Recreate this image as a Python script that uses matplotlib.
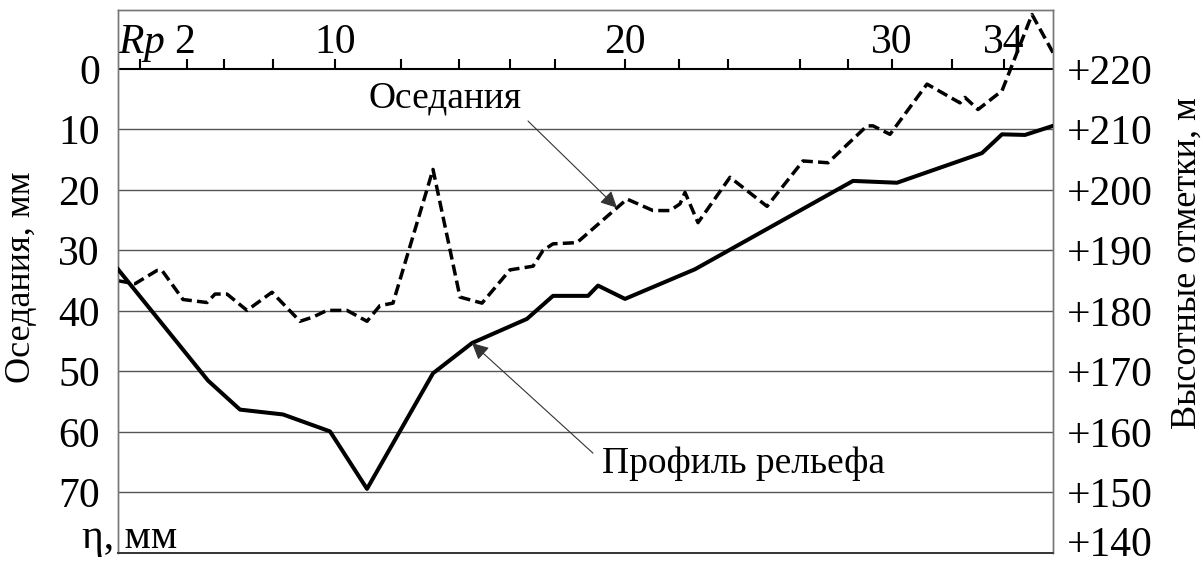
import matplotlib
matplotlib.use("Agg")
import matplotlib.pyplot as plt
import numpy as np

plt.rcParams['font.family'] = ['Liberation Serif', 'DejaVu Serif']
plt.rcParams['mathtext.fontset'] = 'custom'
plt.rcParams['mathtext.rm'] = 'Liberation Serif'
plt.rcParams['mathtext.it'] = 'Liberation Serif:italic'

# ------------------------------------------------------------------
# data (distance along profile)
# ------------------------------------------------------------------
subs_dist = [0, 17, 39, 44, 65, 89, 97, 109, 129, 154, 182, 195, 209, 229, 249,
             262, 275, 315, 342, 364, 392, 415, 425, 435, 459, 509, 535, 552,
             562, 567, 580, 612, 649, 685, 710, 749, 755, 772, 809, 842, 847,
             860, 884, 914, 935]
subs_mm = [35.0, 35.5, 33.3, 33.3, 38.1, 38.6, 37.2, 37.2, 39.9, 36.9, 41.7,
           41.0, 39.9, 39.9, 41.7, 39.1, 38.7, 16.6, 37.7, 38.7, 33.2, 32.6,
           30.0, 28.9, 28.7, 21.5, 23.4, 23.4, 22.3, 20.4, 25.4, 17.9, 22.7,
           15.2, 15.5, 9.4, 9.4, 10.8, 2.5, 5.6, 4.7, 6.7, 3.6, -9.0, -2.7]

prof_dist = [0, 90, 122, 165, 212, 249, 315, 354, 409, 435, 470, 480, 507,
             577, 735, 779, 864, 884, 907, 935]
prof_h = [186.9, 168.5, 163.7, 162.9, 160.1, 150.6, 169.7, 174.7, 178.7,
          182.5, 182.5, 184.2, 182.0, 186.9, 201.5, 201.2, 206.1, 209.2,
          209.1, 210.6]

# benchmark ticks on top line
bench_dist = [22, 69, 106, 155, 217, 283, 341, 392, 437, 507, 561, 610,
              682, 730, 774, 834, 886]
bench_lab_dist = [0, 217, 507, 774, 886]
bench_labels = [r'$\mathit{Rp}$ 2', '10', '20', '30', '34']

eta_ticks = [0, 10, 20, 30, 40, 50, 60, 70]
h_ticks = [140, 150, 160, 170, 180, 190, 200, 210, 220]

# ------------------------------------------------------------------
fig = plt.figure(figsize=(12.03, 5.67), dpi=100)
ax = fig.add_axes([118 / 1203, 14 / 567, 935 / 1203, 543 / 567])
ax2 = ax.twinx()

ax.set_xlim(0, 935)
ax.set_ylim(80, -9.75)
ax2.set_ylim(140, 229.75)

# grid lines
for v in eta_ticks[1:]:
    ax.axhline(v, color='#555555', lw=1.0, zorder=1)
ax.axhline(0, color='black', lw=1.5, zorder=2)

# top ticks
ax.vlines(bench_dist, -1.7, 0, color='black', lw=1.5, zorder=2)
for x, lab in zip(bench_lab_dist, bench_labels):
    ha = 'left' if x == 0 else 'center'
    ax.text(x, -2.6, lab, ha=ha, va='baseline', fontsize=30)

# lines
ax.plot(subs_dist, subs_mm, color='black', lw=2.5, dashes=(3.2, 1.5), zorder=4)
ax2.plot(prof_dist, prof_h, color='black', lw=2.9, zorder=4)

# ticks
ax.set_xticks([])
ax.set_yticks(eta_ticks)
ax.set_yticklabels([str(v) for v in eta_ticks], fontsize=30)
ax.tick_params(axis='y', length=0, pad=13)
ax2.set_yticks([])
# right labels drawn by hand so the lowest one stays inside the picture
rtrans = ax2.get_yaxis_transform()
for v in h_ticks:
    yv = v + 2.0 if v == h_ticks[0] else v
    ax2.text(1.015, yv, '+%d' % v, transform=rtrans, ha='left',
             va='center_baseline', fontsize=30, clip_on=False)

for a in (ax, ax2):
    for s in ('left', 'right', 'top'):
        a.spines[s].set_color('#777777')
        a.spines[s].set_linewidth(1.0)
    a.spines['bottom'].set_color('#333333')
    a.spines['bottom'].set_linewidth(1.2)

# annotations
aprops = dict(arrowstyle='-|>', color='#333333', lw=0.8, mutation_scale=25,
              shrinkA=0, shrinkB=0)
tip_x = 499
tip_y = np.interp(tip_x, subs_dist, subs_mm)
ax.text(327, 4.8, 'Оседания', ha='center', va='center', fontsize=27)
ax.annotate('', xy=(tip_x, tip_y), xytext=(410, 8.6), arrowprops=aprops, zorder=5)

ax2.text(484, 154.8, 'Профиль рельефа', ha='left', va='center', fontsize=27)
ax2.annotate('', xy=(prof_dist[7], prof_h[7]), xytext=(475, 156.5),
             arrowprops=aprops, zorder=5)

# axis titles
fig.text(82 / 1203, 1 - 548 / 567, 'η, мм', ha='left', va='baseline', fontsize=30)
fig.text(22 / 1203, 1 - 277 / 567, 'Оседания, мм', rotation=90,
         ha='center', va='center', fontsize=26)
fig.text(1187 / 1203, 1 - 263 / 567, 'Высотные отметки, м', rotation=90,
         ha='center', va='center', fontsize=26)

fig.savefig('out.png', dpi=100)
